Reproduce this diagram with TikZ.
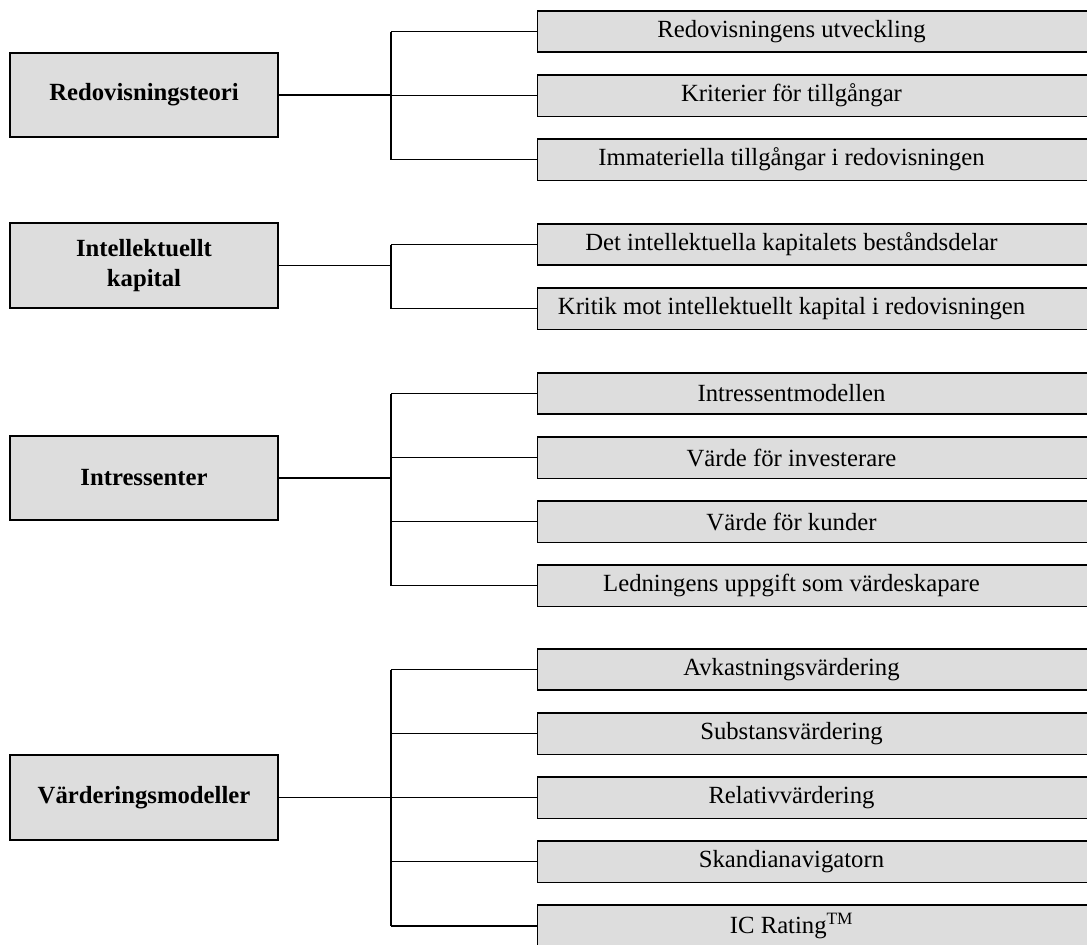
\documentclass[tikz,border=0pt]{standalone}
\usepackage{fontspec}
\setmainfont{Liberation Serif}
\usetikzlibrary{positioning}
\definecolor{boxgray}{RGB}{221,221,221}

\begin{document}
\begin{tikzpicture}[x=1pt, y=-1pt, node distance=21pt,
    every node/.style={font=\fontsize{24.7}{30}\selectfont},
    topic/.style={draw, fill=boxgray, line width=1.6pt, minimum width=268.5pt, minimum height=84.5pt, align=center, font=\fontsize{24.7}{30}\selectfont\bfseries},
    sub/.style={draw, fill=boxgray, line width=1.6pt, minimum width=560pt, minimum height=41.5pt, inner sep=0pt, label={[xshift=-25.8pt]center:{#1}}},
    link/.style={line width=1.2pt}]
    \useasboundingbox (0,0) rectangle (1087,945);
    \clip (0,0) rectangle (1087,945);
    \coordinate (bus) at (391,0);

    % left column
    \node[topic] (redov) at (144,95) {Redovisningsteori};
    \node[topic] (intell) at (144,265.5) {Intellektuellt\\kapital};
    \node[topic] (intres) at (144,478) {Intressenter};
    \node[topic] (varde) at (144,797.5) {Värderingsmodeller};

    % right column
    \node[sub={Redovisningens utveckling}] (r1) at (817.3,31.5) {};
    \node[sub={Kriterier för tillgångar}] (r2) [below=of r1] {};
    \node[sub={Immateriella tillgångar i redovisningen}] (r3) [below=of r2] {};

    \node[sub={Det intellektuella kapitalets beståndsdelar}] (k1) at (817.3,244.5) {};
    \node[sub={Kritik mot intellektuellt kapital i redovisningen}] (k2) [below=of k1] {};

    \node[sub={Intressentmodellen}] (i1) at (817.3,393.5) {};
    \node[sub={Värde för investerare}] (i2) [below=of i1] {};
    \node[sub={Värde för kunder}] (i3) [below=of i2] {};
    \node[sub={Ledningens uppgift som värdeskapare}] (i4) [below=of i3] {};

    \node[sub={Avkastningsvärdering}] (v1) at (817.3,669.5) {};
    \node[sub={Substansvärdering}] (v2) [below=of v1] {};
    \node[sub={Relativvärdering}] (v3) [below=of v2] {};
    \node[sub={Skandianavigatorn}] (v4) [below=of v3] {};
    \node[sub={IC Rating\textsuperscript{TM}}] (v5) [below=of v4] {};

    % connectors
    \foreach \m in {redov,intell,intres,varde}
        \draw[link] (\m.east) -- (\m.east -| bus);
    \foreach \s in {r1,r2,r3,k1,k2,i1,i2,i3,i4,v1,v2,v3,v4,v5}
        \draw[link] (\s.west) -- (\s.west -| bus);
    \draw[link] (r1.west -| bus) -- (r3.west -| bus);
    \draw[link] (k1.west -| bus) -- (k2.west -| bus);
    \draw[link] (i1.west -| bus) -- (i4.west -| bus);
    \draw[link] (v1.west -| bus) -- (v5.west -| bus);
\end{tikzpicture}
\end{document}
